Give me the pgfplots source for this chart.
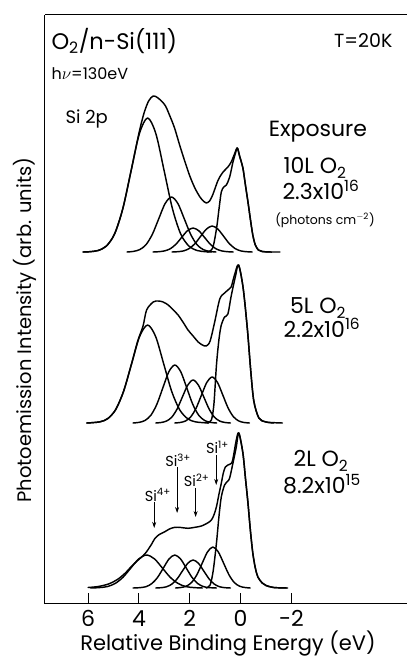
\documentclass[border=0pt]{standalone}
\usepackage{fontspec}
\setmainfont{Poppins}
\usepackage{pgfplots}
\pgfplotsset{compat=1.18}
\usetikzlibrary{arrows.meta}

\begin{document}
\begin{tikzpicture}
\path[use as bounding box] (0pt,0pt) rectangle (408pt,659pt);
\begin{axis}[
  at={(45pt,55pt)}, anchor=south west,
  scale only axis, width=362pt, height=589pt,
  x dir=reverse, xmin=-6.55, xmax=7.70, ymin=0, ymax=589,
  axis x line=box, axis y line=left,
  x axis line style={-}, y axis line style={-},
  axis line style={line width=1pt},
  xtick={6,4,2,0,-2}, xticklabels={6,4,2,0,-2},
  xtick pos=left, ytick=\empty,
  tick align=inside, major tick length=11pt,
  every tick/.style={line width=1pt, black},
  xticklabel style={font=\fontsize{22}{26}\selectfont, yshift=-3pt},
  cycle list={{black}},
  every axis plot post/.append style={black, mark=none, line width=1.45pt, smooth, line join=round, line cap=round},
]
% ---------- top: 10 L O2 ----------
\addplot coordinates {(6.2,352) (5.935,352.3) (5.61,353.5) (5.285,357.9) (4.96,370.1) (4.635,395.5) (4.31,433.3) (4.0,471) (3.8,491) (3.62,503) (3.44,508) (3.25,506) (2.98,499) (2.8,489) (2.6,476) (2.4,459) (2.2,443) (2.0,428) (1.8,416) (1.6,407) (1.45,402.5) (1.35,401) (1.22,403) (1.1,409) (1.0,416) (0.9,423) (0.82,427) (0.69,432) (0.5,437) (0.37,442) (0.24,450) (0.13,456) (0.04,448) (-0.09,436) (-0.19,419) (-0.29,402) (-0.39,384) (-0.48,369) (-0.58,359) (-0.7,354) (-0.85,352.5) (-1.1,352) (-1.55,352)};
\addplot coordinates {(6.2,352) (5.935,352.3) (5.61,353.5) (5.285,357.9) (4.96,370.1) (4.635,395.5) (4.31,433.3) (3.985,470.3) (3.66,486) (3.335,470.3) (3.01,433.3) (2.685,395.5) (2.36,370.1) (2.035,357.9) (1.71,353.5) (1.385,352.3) (1.15,352)};
\addplot coordinates {(4.47,352) (4.22,352.6) (3.97,354.4) (3.72,359.4) (3.47,369.9) (3.22,385.4) (2.97,400.5) (2.72,407) (2.47,400.5) (2.22,385.4) (1.97,369.9) (1.72,359.4) (1.47,354.4) (1.22,352.6) (0.97,352)};
\addplot coordinates {(3.445,352) (3.22,352.3) (2.995,353.1) (2.77,355.2) (2.545,359.8) (2.32,366.6) (2.095,373.2) (1.87,376) (1.645,373.2) (1.42,366.6) (1.195,359.8) (0.97,355.2) (0.745,353.1) (0.52,352.3) (0.295,352)};
\addplot coordinates {(2.695,352) (2.47,352.3) (2.245,353.1) (2.02,355.5) (1.795,360.4) (1.57,367.8) (1.345,374.9) (1.12,378) (0.895,374.9) (0.67,367.8) (0.445,360.4) (0.22,355.5) (-0.005,353.1) (-0.23,352.3) (-0.455,352)};
\addplot coordinates {(1.3,352) (1.1,356) (0.95,375) (0.85,395) (0.76,412) (0.66,417) (0.56,419) (0.43,427) (0.3,442) (0.2,451) (0.13,456) (0.04,448) (-0.09,436) (-0.19,419) (-0.29,402) (-0.39,384) (-0.48,369) (-0.58,359) (-0.7,354) (-0.85,352.5) (-1.2,352)};
% ---------- middle: 5 L O2 ----------
\addplot coordinates {(6.05,181) (5.55,182.1) (5.235,185.3) (4.92,194.3) (4.605,212.8) (4.29,240.4) (4.05,263) (3.84,278) (3.7,294) (3.44,302) (3.24,303) (3.05,302) (2.85,299) (2.65,294) (2.46,289) (2.27,282) (2.07,274) (1.87,268) (1.67,262) (1.5,259) (1.35,258) (1.2,263) (1.02,282) (0.82,305) (0.63,311) (0.45,315) (0.37,317) (0.24,329) (0.08,339) (-0.1,316) (-0.27,274) (-0.4,233) (-0.52,203) (-0.72,186) (-1.0,182) (-1.65,181)};
\addplot coordinates {(6.05,181) (5.55,182.1) (5.235,185.3) (4.92,194.3) (4.605,212.8) (4.29,240.4) (3.975,267.5) (3.66,279) (3.345,267.5) (3.03,240.4) (2.715,212.8) (2.4,194.3) (2.085,185.3) (1.77,182.1) (1.27,181)};
\addplot coordinates {(4.235,181) (4.0,181.6) (3.765,183.5) (3.53,188.8) (3.295,199.8) (3.06,216.2) (2.825,232.2) (2.59,239) (2.355,232.2) (2.12,216.2) (1.885,199.8) (1.65,188.8) (1.415,183.5) (1.18,181.6) (0.945,181)};
\addplot coordinates {(3.34,181) (3.13,181.5) (2.92,182.9) (2.71,186.8) (2.5,195) (2.29,207.1) (2.08,218.9) (1.87,224) (1.66,218.9) (1.45,207.1) (1.24,195) (1.03,186.8) (0.82,182.9) (0.61,181.5) (0.4,181)};
\addplot coordinates {(2.59,181) (2.38,181.5) (2.17,183) (1.96,187.2) (1.75,195.9) (1.54,208.9) (1.33,221.6) (1.12,227) (0.91,221.6) (0.7,208.9) (0.49,195.9) (0.28,187.2) (0.07,183) (-0.14,181.5) (-0.35,181)};
\addplot coordinates {(1.3,181) (1.15,184) (1.05,200) (0.95,239) (0.85,265) (0.76,279) (0.63,287) (0.5,290) (0.37,308) (0.2,328) (0.08,339) (-0.1,316) (-0.27,274) (-0.4,233) (-0.52,203) (-0.72,186) (-1.0,182) (-1.3,181)};
% ---------- bottom: 2 L O2 ----------
\addplot coordinates {(6.0,16.5) (5.6,17.5) (5.2,20) (4.85,24.5) (4.55,30.7) (4.3,37.5) (4.03,44) (3.85,48) (3.7,52.3) (3.5,60) (3.37,65.7) (3.2,69.5) (2.98,72.3) (2.8,75) (2.59,76.7) (2.35,76.5) (2.07,75.7) (1.8,76.7) (1.54,78) (1.3,81) (1.15,84) (1.05,89) (0.95,97.3) (0.85,110) (0.76,120.7) (0.68,131) (0.6,137) (0.5,139) (0.35,141) (0.28,148) (0.17,164) (0.07,171) (-0.09,151) (-0.19,126) (-0.29,101) (-0.38,75) (-0.48,51) (-0.58,36) (-0.68,27) (-0.85,21) (-1.0,18.5) (-1.3,16.5) (-1.85,16)};
\addplot coordinates {(5.9,16) (5.56,16.4) (5.25,17.4) (4.94,20.5) (4.63,26.7) (4.32,36.0) (4.01,45.1) (3.7,49) (3.39,45.1) (3.08,36.0) (2.77,26.7) (2.46,20.5) (2.15,17.4) (1.84,16.4) (1.5,16)};
\addplot coordinates {(4.23,16) (3.94,16.4) (3.715,17.4) (3.49,20.5) (3.265,26.7) (3.04,36.0) (2.815,45.1) (2.59,49) (2.365,45.1) (2.14,36.0) (1.915,26.7) (1.69,20.5) (1.465,17.4) (1.24,16.4) (0.95,16)};
\addplot coordinates {(3.34,16) (3.13,16.3) (2.92,17.2) (2.71,19.8) (2.5,25.1) (2.29,33) (2.08,40.7) (1.87,44) (1.66,40.7) (1.45,33) (1.24,25.1) (1.03,19.8) (0.82,17.2) (0.61,16.3) (0.4,16)};
\addplot coordinates {(2.56,16) (2.35,16.5) (2.14,17.8) (1.93,21.5) (1.72,29.3) (1.51,40.9) (1.3,52.2) (1.09,57) (0.88,52.2) (0.67,40.9) (0.46,29.3) (0.25,21.5) (0.04,17.8) (-0.17,16.5) (-0.38,16)};
\addplot coordinates {(1.35,16) (1.2,19) (1.08,33) (0.95,61) (0.85,88) (0.76,107) (0.63,119) (0.5,123) (0.43,126) (0.3,141) (0.17,157) (0.07,171) (-0.09,151) (-0.19,126) (-0.29,101) (-0.38,75) (-0.48,51) (-0.58,36) (-0.68,27) (-0.85,21) (-1.0,18.5) (-1.3,16.5) (-1.8,16)};
% oxidation-state markers
\begin{scope}[line width=0.8pt, -{Stealth[length=6pt,width=4pt]}]
\draw (axis cs:3.4,102) -- (axis cs:3.4,76);
\draw (axis cs:2.5,137) -- (axis cs:2.5,91);
\draw (axis cs:1.77,116) -- (axis cs:1.77,87);
\draw (axis cs:0.96,149) -- (axis cs:0.96,119);
\end{scope}
\begin{scope}[font=\fontsize{14.5}{17}\selectfont]
\node at (axis cs:3.26,109) {Si\textsuperscript{4+}};
\node at (axis cs:2.46,144) {Si\textsuperscript{3+}};
\node at (axis cs:1.73,124) {Si\textsuperscript{2+}};
\node at (axis cs:0.91,157) {Si\textsuperscript{1+}};
\end{scope}
\end{axis}
% texts (page coordinates in pt)
\node[anchor=west, font=\fontsize{22.5}{27}\selectfont] at (48pt,618pt) {O\textsubscript{2}/n-Si(111)};
\node[anchor=east, font=\fontsize{19}{23}\selectfont] at (396pt,618pt) {T=20K};
\node[anchor=west, font=\fontsize{16}{19}\selectfont] at (48pt,585pt) {h$\nu$=130eV};
\node[anchor=west, font=\fontsize{18}{21}\selectfont] at (62pt,540pt) {Si 2p};
\begin{scope}[font=\fontsize{22}{26}\selectfont]
\node at (318pt,527pt) {Exposure};
\node at (315pt,491pt) {10L O\textsubscript{2}};
\node at (321pt,469pt) {2.3x10\textsuperscript{16}};
\node at (318pt,351pt) {5L O\textsubscript{2}};
\node at (322pt,331pt) {2.2x10\textsuperscript{16}};
\node at (321pt,198pt) {2L O\textsubscript{2}};
\node at (322pt,175pt) {8.2x10\textsuperscript{15}};
\end{scope}
\node[font=\fontsize{12.5}{15}\selectfont] at (325pt,439pt) {(photons cm\textsuperscript{$-$2})};
\node[font=\fontsize{21}{25}\selectfont] at (228pt,15pt) {Relative Binding Energy (eV)};
\node[rotate=90, font=\fontsize{19.5}{23}\selectfont] at (25pt,329pt) {Photoemission Intensity (arb. units)};
\end{tikzpicture}
\end{document}
